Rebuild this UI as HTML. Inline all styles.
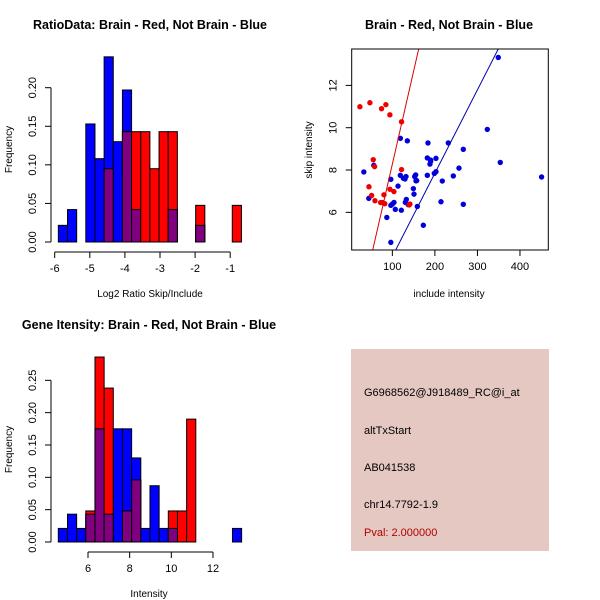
<!DOCTYPE html>
<html><head><meta charset="utf-8"><style>
html,body{margin:0;padding:0;background:#fff}
svg{display:block;font-family:"Liberation Sans",sans-serif}
</style></head><body>
<svg id="s" width="600" height="600" xmlns="http://www.w3.org/2000/svg">
<rect width="600" height="600" fill="#fff"/>
<g id="p1"></g>
<g id="p2"></g>
<g id="p3"></g>
<g>
<rect x="351" y="349" width="198" height="202" fill="#e6c8c2"/>
<g font-size="11" fill="#000">
<text x="364" y="396">G6968562@J918489_RC@i_at</text>
<text x="364" y="434">altTxStart</text>
<text x="364" y="471">AB041538</text>
<text x="364" y="508">chr14.7792-1.9</text>
<text x="364" y="536" fill="#b00000">Pval: 2.000000</text>
</g></g>
</svg>
<script>
// Histogram 1 data
const h1Start = -5.896, h1Width = 0.2608;
const h1Blue = [0.0216,0.042,0,0.153,0.108,0.24,0.130,0.197,0.042,0,0,0,0.042,0,0,0.0216,0,0,0,0];
const h1Red  = [0,0,0,0,0,0.095,0,0.143,0.143,0.143,0.095,0.143,0.143,0,0,0.0475,0,0,0,0.0475];
const h1XTicks = [-6,-5,-4,-3,-2,-1];
const h1YTicks = ["0.00","0.05","0.10","0.15","0.20"];
// Histogram 2 data
const h2Start = 4.575, h2Width = 0.44;
const h2Blue = [0.021,0.043,0.021,0.043,0.175,0.043,0.175,0.175,0.130,0.021,0.087,0.021,0.021,0,0,0,0,0,0,0.021];
const h2Red  = [0,0,0,0.048,0.286,0.238,0,0.048,0.096,0,0,0,0.048,0.048,0.19,0,0,0,0,0];
const h2XTicks = [6,8,10,12];
const h2YTicks = ["0.00","0.05","0.10","0.15","0.20","0.25"];
// Scatter data
const redX = [23.7,47.2,74.6,84.8,94.2,121.6,55.1,58.3,45,51.3,59.1,72.4,77.1,80.2,94.3,103.7,82.3,121.6,139.6,141.2];
const redY = [10.99,11.18,10.90,11.09,10.61,10.28,8.49,8.16,7.21,6.80,6.55,6.46,6.46,6.83,7.09,6.98,6.41,8.02,6.35,6.39];
const blueX = [32.9,44.6,56.4,96.4,87,96.4,96.4,100,103.9,107,113.3,118.8,118.8,121.1,135.2,125.8,129.7,132.1,130.5,132.9,137.6,149.4,150.9,152.5,154.8,155.6,157.2,158.7,172.8,182.2,182.2,183.7,188.4,190,190,198.6,202.5,202.5,217.4,214.3,231.5,243.3,256.6,266.8,266.8,323.2,349,353.7,450.8];
const blueY = [7.91,6.66,8.22,7.56,5.76,4.58,6.33,6.39,6.47,6.14,7.24,9.50,7.75,6.10,9.38,7.61,7.58,7.69,6.47,6.61,6.36,7.12,6.86,7.69,7.77,7.49,7.50,6.28,5.39,7.75,8.57,9.28,8.28,8.41,8.47,7.84,8.55,7.92,7.48,6.50,9.28,7.72,8.09,8.98,6.38,9.92,13.32,8.36,7.67];
const redFit = [-0.51, 0.0879];
const blueFit = [-0.027, 0.03939];
const scXTicks = [100,200,300,400];
const scYTicks = [6,8,10,12];

const NS="http://www.w3.org/2000/svg";
function mk(parent,tag,attrs,text){const e=document.createElementNS(NS,tag);for(const k in attrs)e.setAttribute(k,attrs[k]);if(text!==undefined)e.textContent=text;parent.appendChild(e);return e;}

function hist(g,cfg){
  const xs=v=>cfg.x0px+(v-cfg.x0)*cfg.xk, ys=v=>cfg.y0px-v*cfg.yk;
  const n=cfg.blue.length;
  for(let i=0;i<n;i++){
    const l=xs(cfg.start+i*cfg.w), r=xs(cfg.start+(i+1)*cfg.w);
    const b=cfg.blue[i], rd=cfg.red[i], m=Math.min(b,rd);
    if(b>0){const e=mk(g,'rect',{x:l,y:ys(b),width:r-l,height:ys(0)-ys(b),fill:'#0000ff',stroke:'#000','stroke-width':1});
      
      }
    if(rd>0){const e=mk(g,'rect',{x:l,y:ys(rd),width:r-l,height:ys(0)-ys(rd),fill:'#ff0000',stroke:'#000','stroke-width':1});
      
      }
    if(m>0){const e=mk(g,'rect',{x:l,y:ys(m),width:r-l,height:ys(0)-ys(m),fill:'#800080',stroke:'#000','stroke-width':1});
      
      }
  }
  const yv=cfg.yt.map(Number);
  mk(g,'line',{x1:cfg.axX,x2:cfg.axX,y1:ys(yv[0]),y2:ys(yv[yv.length-1]),stroke:'#000'});
  cfg.yt.forEach(t=>{const y=ys(Number(t));mk(g,'line',{x1:cfg.axX-6,x2:cfg.axX,y1:y,y2:y,stroke:'#000'});
    const e=mk(g,'text',{x:cfg.axX-15,y:y,'font-size':11,'text-anchor':'middle',transform:`rotate(-90 ${cfg.axX-15} ${y})`},t);
    
    });
  const xt=cfg.xt;
  mk(g,'line',{x1:xs(xt[0]),x2:xs(xt[xt.length-1]),y1:cfg.axY,y2:cfg.axY,stroke:'#000'});
  xt.forEach(t=>{const x=xs(t);mk(g,'line',{x1:x,x2:x,y1:cfg.axY,y2:cfg.axY+6,stroke:'#000'});
    const e=mk(g,'text',{x:x,y:cfg.axY+20,'font-size':11,'text-anchor':'middle'},t);
    
    });
  let e=mk(g,'text',{x:cfg.tx,y:cfg.ty,'font-size':12.5,'font-weight':'bold','text-anchor':'middle'},cfg.title);
  
  
  e=mk(g,'text',{x:cfg.tx,y:cfg.axY+45,'font-size':10,'text-anchor':'middle'},cfg.xlab);
  
  
  const cy=(cfg.y0px+cfg.yTop)/2;
  e=mk(g,'text',{x:12,y:cy,'font-size':10,'text-anchor':'middle',transform:`rotate(-90 12 ${cy})`},'Frequency');
  
  
}

hist(document.getElementById('p1'),{start:h1Start,w:h1Width,blue:h1Blue,red:h1Red,x0:-6,x0px:54.7,xk:35.1,y0px:242,yk:771.5,
  axX:51,axY:252,xt:h1XTicks,yt:h1YTicks,title:'RatioData: Brain - Red, Not Brain - Blue',tx:150,ty:29,xlab:'Log2 Ratio Skip/Include',yTop:57});
hist(document.getElementById('p3'),{start:h2Start,w:h2Width,blue:h2Blue,red:h2Red,x0:6,x0px:88,xk:20.83,y0px:542,yk:646.7,
  axX:51,axY:552,xt:h2XTicks,yt:h2YTicks,title:'Gene Itensity: Brain - Red, Not Brain - Blue',tx:149,ty:329,xlab:'Intensity',yTop:357});

(function(){
  const g=document.getElementById('p2');
  const L=351.7,R=548.3,T=49,B=250;
  const xmin=4.44,xmax=466.6,ymin=4.22,ymax=13.72;
  const xs=v=>L+(v-xmin)/(xmax-xmin)*(R-L), ys=v=>B-(v-ymin)/(ymax-ymin)*(B-T);
  const clip=mk(g,'clipPath',{id:'sc'});mk(clip,'rect',{x:L,y:T,width:R-L,height:B-T});
  function fit(c,col,name){const e=mk(g,'line',{x1:xs(xmin),y1:ys(c[0]+c[1]*xmin),x2:xs(xmax),y2:ys(c[0]+c[1]*xmax),stroke:col,'stroke-width':1,'clip-path':'url(#sc)'});
    
    }
  blueX.forEach((v,i)=>{const e=mk(g,'circle',{cx:xs(v),cy:ys(blueY[i]),r:2.7,fill:'#0000dd'});
    
    });
  redX.forEach((v,i)=>{const e=mk(g,'circle',{cx:xs(v),cy:ys(redY[i]),r:2.7,fill:'#ee0000'});
    
    });
  fit(redFit,'#dd0000','red-fit-line');
  fit(blueFit,'#0000aa','blue-fit-line');
  mk(g,'rect',{x:L,y:T,width:R-L,height:B-T,fill:'none',stroke:'#000'});
  scXTicks.forEach(t=>{const x=xs(t);mk(g,'line',{x1:x,x2:x,y1:B,y2:B+6,stroke:'#000'});
    const e=mk(g,'text',{x:x,y:B+20,'font-size':11,'text-anchor':'middle'},t);
    
    });
  scYTicks.forEach(t=>{const y=ys(t);mk(g,'line',{x1:L-6,x2:L,y1:y,y2:y,stroke:'#000'});
    const e=mk(g,'text',{x:L-15,y:y,'font-size':11,'text-anchor':'middle',transform:`rotate(-90 ${L-15} ${y})`},t);
    
    });
  let e=mk(g,'text',{x:449,y:29,'font-size':12.5,'font-weight':'bold','text-anchor':'middle'},'Brain - Red, Not Brain - Blue');
  
  
  e=mk(g,'text',{x:449,y:297,'font-size':10,'text-anchor':'middle'},'include intensity');
  
  
  e=mk(g,'text',{x:312,y:150,'font-size':10,'text-anchor':'middle',transform:'rotate(-90 312 150)'},'skip intensity');
  
  
})();
</script>
</body></html>
